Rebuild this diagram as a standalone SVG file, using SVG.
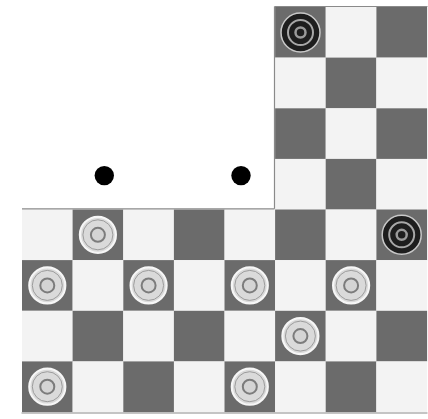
<svg xmlns="http://www.w3.org/2000/svg" width="428" height="419" viewBox="0 0 428 419">
<style>
.d{fill:#6b6b6b}
.l{fill:#f3f3f3}
.edge{fill:none;stroke:#8a8a8a;stroke-width:1.2}
.dot{fill:#000}
</style>
<defs>
<g id="wp">
<circle r="18" fill="#dadada" stroke="#f6f6f6" stroke-width="2.2"/>
<circle r="15" fill="none" stroke="#9c9c9c" stroke-width="1"/>
<circle r="7" fill="#d4d4d4" stroke="#7c7c7c" stroke-width="2"/>
</g>
<g id="bp">
<circle r="19.5" fill="#1e1e1e" stroke="#c8c8c8" stroke-width="1.5"/>
<circle r="12.5" fill="none" stroke="#a8a8a8" stroke-width="2"/>
<circle r="5" fill="none" stroke="#9a9a9a" stroke-width="2.5"/>
</g>
</defs>
<rect width="428" height="419" fill="#fff"/>
<g id="board">
<!-- upper strip rows 0-3, cols 5-7 -->
<rect class="d" x="275.1" y="7" width="50.7" height="50.7"/>
<rect class="l" x="325.7" y="7" width="50.7" height="50.7"/>
<rect class="d" x="376.4" y="7" width="50.7" height="50.7"/>
<rect class="l" x="275.1" y="57.6" width="50.7" height="50.7"/>
<rect class="d" x="325.7" y="57.6" width="50.7" height="50.7"/>
<rect class="l" x="376.4" y="57.6" width="50.7" height="50.7"/>
<rect class="d" x="275.1" y="108.3" width="50.7" height="50.7"/>
<rect class="l" x="325.7" y="108.3" width="50.7" height="50.7"/>
<rect class="d" x="376.4" y="108.3" width="50.7" height="50.7"/>
<rect class="l" x="275.1" y="158.9" width="50.7" height="50.7"/>
<rect class="d" x="325.7" y="158.9" width="50.7" height="50.7"/>
<rect class="l" x="376.4" y="158.9" width="50.7" height="50.7"/>
<!-- row 4 -->
<rect class="l" x="22" y="209.5" width="50.7" height="50.7"/>
<rect class="d" x="72.6" y="209.5" width="50.7" height="50.7"/>
<rect class="l" x="123.3" y="209.5" width="50.7" height="50.7"/>
<rect class="d" x="173.9" y="209.5" width="50.7" height="50.7"/>
<rect class="l" x="224.5" y="209.5" width="50.7" height="50.7"/>
<rect class="d" x="275.1" y="209.5" width="50.7" height="50.7"/>
<rect class="l" x="325.7" y="209.5" width="50.7" height="50.7"/>
<rect class="d" x="376.4" y="209.5" width="50.7" height="50.7"/>
<!-- row 5 -->
<rect class="d" x="22" y="260.1" width="50.7" height="50.7"/>
<rect class="l" x="72.6" y="260.1" width="50.7" height="50.7"/>
<rect class="d" x="123.3" y="260.1" width="50.7" height="50.7"/>
<rect class="l" x="173.9" y="260.1" width="50.7" height="50.7"/>
<rect class="d" x="224.5" y="260.1" width="50.7" height="50.7"/>
<rect class="l" x="275.1" y="260.1" width="50.7" height="50.7"/>
<rect class="d" x="325.7" y="260.1" width="50.7" height="50.7"/>
<rect class="l" x="376.4" y="260.1" width="50.7" height="50.7"/>
<!-- row 6 -->
<rect class="l" x="22" y="310.8" width="50.7" height="50.7"/>
<rect class="d" x="72.6" y="310.8" width="50.7" height="50.7"/>
<rect class="l" x="123.3" y="310.8" width="50.7" height="50.7"/>
<rect class="d" x="173.9" y="310.8" width="50.7" height="50.7"/>
<rect class="l" x="224.5" y="310.8" width="50.7" height="50.7"/>
<rect class="d" x="275.1" y="310.8" width="50.7" height="50.7"/>
<rect class="l" x="325.7" y="310.8" width="50.7" height="50.7"/>
<rect class="d" x="376.4" y="310.8" width="50.7" height="50.7"/>
<!-- row 7 -->
<rect class="d" x="22" y="361.4" width="50.7" height="50.7"/>
<rect class="l" x="72.6" y="361.4" width="50.7" height="50.7"/>
<rect class="d" x="123.3" y="361.4" width="50.7" height="50.7"/>
<rect class="l" x="173.9" y="361.4" width="50.7" height="50.7"/>
<rect class="d" x="224.5" y="361.4" width="50.7" height="50.7"/>
<rect class="l" x="275.1" y="361.4" width="50.7" height="50.7"/>
<rect class="d" x="325.7" y="361.4" width="50.7" height="50.7"/>
<rect class="l" x="376.4" y="361.4" width="50.7" height="50.7"/>
<path class="edge" d="M274.5 6.5 H427.5 M274.5 6.5 V208.8 M22 208.8 H274.5 M21.5 413 H427.5"/>
</g>
<g id="pieces">
<g id="b1" transform="translate(300.5,32.5)"><use href="#bp"/></g>
<g id="b2" transform="translate(401.7,234.8)"><use href="#bp"/></g>
<g id="w1" transform="translate(97.9,234.8)"><use href="#wp"/></g>
<g id="w2" transform="translate(47.3,285.4)"><use href="#wp"/></g>
<g id="w3" transform="translate(148.6,285.4)"><use href="#wp"/></g>
<g id="w4" transform="translate(249.8,285.4)"><use href="#wp"/></g>
<g id="w5" transform="translate(351.1,285.4)"><use href="#wp"/></g>
<g id="w6" transform="translate(300.4,336.1)"><use href="#wp"/></g>
<g id="w7" transform="translate(47.3,386.7)"><use href="#wp"/></g>
<g id="w8" transform="translate(249.8,386.7)"><use href="#wp"/></g>
</g>
<g id="dots">
<circle class="dot" cx="104.3" cy="175.6" r="9.7"/>
<circle class="dot" cx="241" cy="175.6" r="9.7"/>
</g>
</svg>
